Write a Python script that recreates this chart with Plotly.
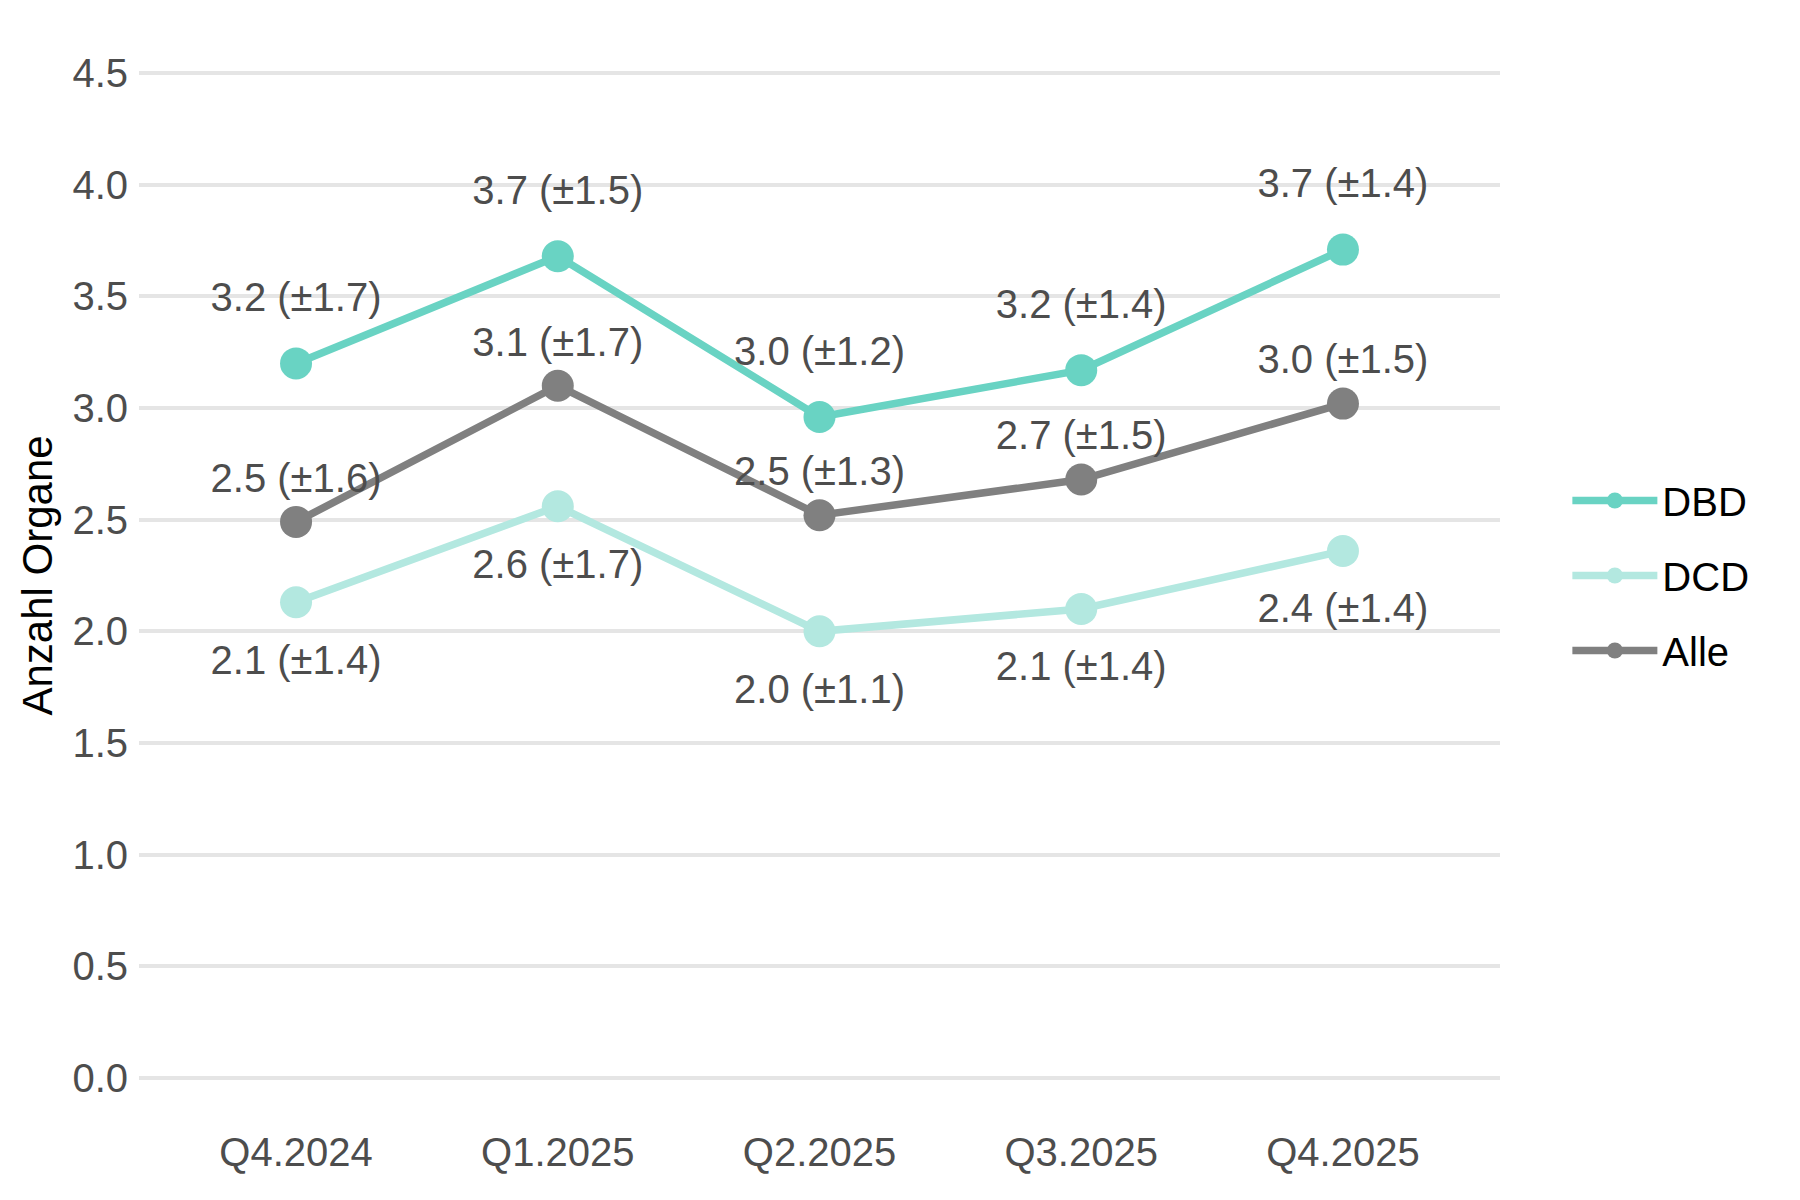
import plotly.graph_objects as go

quarters = ["Q4.2024", "Q1.2025", "Q2.2025", "Q3.2025", "Q4.2025"]
dbd_mean = [3.20, 3.68, 2.96, 3.17, 3.71]
dbd_sd = [1.7, 1.5, 1.2, 1.4, 1.4]
dcd_mean = [2.13, 2.56, 2.00, 2.10, 2.36]
dcd_sd = [1.4, 1.7, 1.1, 1.4, 1.4]
alle_mean = [2.49, 3.10, 2.52, 2.68, 3.02]
alle_sd = [1.6, 1.7, 1.3, 1.5, 1.5]
y_ticks = [0.0, 0.5, 1.0, 1.5, 2.0, 2.5, 3.0, 3.5, 4.0, 4.5]

FONT = "Liberation Sans, Arial, sans-serif"
series = [
    ("DBD", dbd_mean, dbd_sd, "#69d3c3", 0.28),
    ("DCD", dcd_mean, dcd_sd, "#b3e8e0", -0.275),
    ("Alle", alle_mean, alle_sd, "#808080", 0.18),
]

xidx = list(range(len(quarters)))
fig = go.Figure()
for name, m, s, col, off in series:
    fig.add_trace(go.Scatter(
        x=xidx, y=m, mode="lines+markers", name=name, legendgroup=name,
        line=dict(color=col, width=7.5),
        marker=dict(color=col, size=32),
        hoverinfo="skip",
    ))
for name, m, s, col, off in series:
    fig.add_trace(go.Scatter(
        x=xidx, y=[v + off for v in m], mode="text", showlegend=False,
        text=[f"{v:.1f} (\u00b1{d:.1f})" for v, d in zip(m, s)],
        textposition="middle center",
        textfont=dict(family=FONT, size=40, color="#4d4d4d"),
        hoverinfo="skip",
    ))

fig.update_layout(
    width=1800, height=1200,
    paper_bgcolor="white", plot_bgcolor="white",
    margin=dict(l=131, r=308, t=15, b=80, autoexpand=False),
    font=dict(family=FONT, size=40, color="#4d4d4d"),
    showlegend=True,
    legend=dict(
        x=1.0495, xanchor="left", y=0.5, yanchor="middle",
        font=dict(family=FONT, size=40, color="black"),
        tracegroupgap=20, itemwidth=85,
        bgcolor="rgba(0,0,0,0)",
    ),
)
fig.update_xaxes(
    range=[-0.6, 4.6], tickmode="array", tickvals=xidx, ticktext=quarters,
    showgrid=False, zeroline=False, showline=False, ticks="",
    tickfont=dict(family=FONT, size=40, color="#4d4d4d"),
    ticklabelstandoff=-3,
)
fig.update_yaxes(
    range=[-0.225, 4.725], tickmode="array", tickvals=y_ticks,
    ticktext=[f"{t:.1f}" for t in y_ticks],
    showgrid=True, gridcolor="#e5e5e5", gridwidth=3.5,
    zeroline=False, showline=False, ticks="",
    tickfont=dict(family=FONT, size=40, color="#4d4d4d"),
    ticklabelstandoff=10,
    title=dict(text="Anzahl Organe", font=dict(family=FONT, size=42, color="black"), standoff=6),
)

fig.write_html("out.html")
